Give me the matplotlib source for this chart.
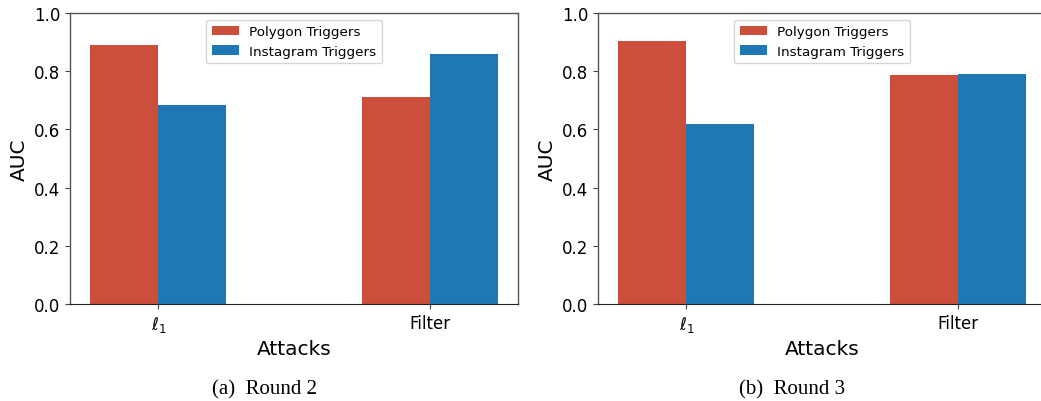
import numpy as np
import matplotlib
matplotlib.use("Agg")
import matplotlib.pyplot as plt

attacks = [r"$\ell_1$", "Filter"]
series = ["Polygon Triggers", "Instagram Triggers"]
round2_polygon = [0.890, 0.711]
round2_instagram = [0.684, 0.859]
round3_polygon = [0.904, 0.787]
round3_instagram = [0.619, 0.790]
captions = ["(a)  Round 2", "(b)  Round 3"]

red = "#cc4f3c"
blue = "#1f77b4"

plt.rcParams['font.family'] = 'DejaVu Sans'
plt.rcParams['mathtext.fontset'] = 'dejavusans'

W, H = 1041, 402
fig = plt.figure(figsize=(W / 100, H / 100), dpi=100)

# (left edge px, polygon, instagram, caption, caption centre px, right spine shown)
panels = [
    (70, round2_polygon, round2_instagram, captions[0], 264, True),
    (598, round3_polygon, round3_instagram, captions[1], 792, False),
]

x = np.arange(len(attacks))
w = 0.25
for left_px, poly, insta, cap, cap_x, right_spine in panels:
    ax = fig.add_axes([left_px / W, 97 / H, 448 / W, 291 / H])
    ax.bar(x - w / 2, poly, w, color=red, label=series[0])
    ax.bar(x + w / 2, insta, w, color=blue, label=series[1])
    ax.set_ylim(0, 1.0)
    ax.set_xticks(x)
    ax.set_xticklabels(attacks)
    ax.tick_params(labelsize=12, color="#444")
    for side in ["left", "top", "right"]:
        ax.spines[side].set_color("#555")
        ax.spines[side].set_linewidth(1.0)
    ax.spines["bottom"].set_color("#222")
    # the second panel runs off the right edge of the picture
    ax.spines["right"].set_visible(right_spine)
    ax.set_ylabel("AUC", fontsize=14.5)
    ax.set_xlabel("Attacks", fontsize=14.5, labelpad=4)
    ax.legend(loc="upper center", fontsize=9.7)
    fig.text(cap_x / W, 1 - 390 / H, cap, ha="center", va="center",
             fontsize=15, family="Liberation Serif")

fig.savefig("out.png", dpi=100)
